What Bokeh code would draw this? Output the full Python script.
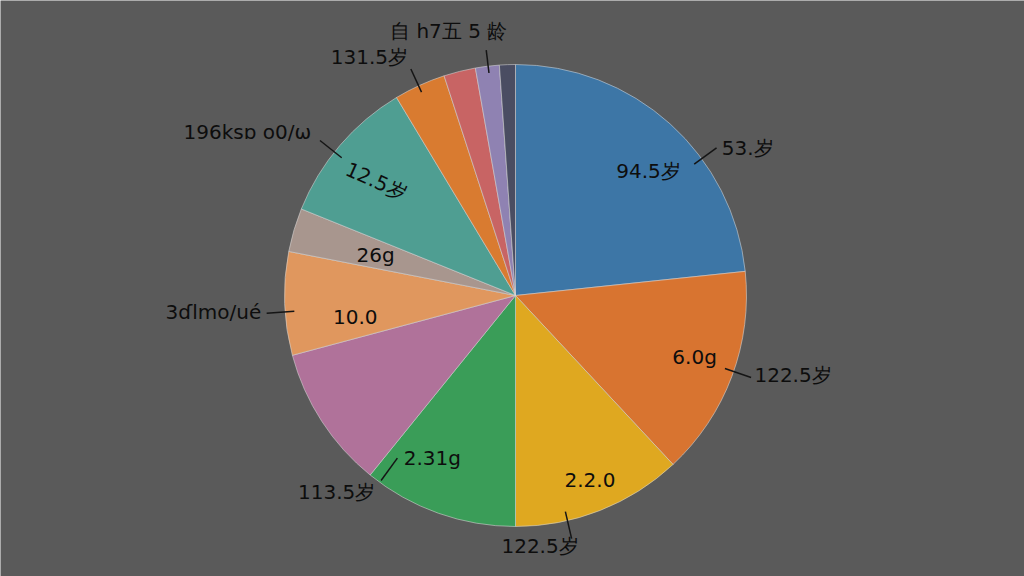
import math
from bokeh.plotting import figure
from bokeh.models import Range1d, ColumnDataSource
from bokeh.core.properties import value
from bokeh.embed import file_html
from bokeh.resources import INLINE

# ---- data ----
slice_values = [84, 53, 43, 39, 36, 26, 11, 37, 13, 8, 6, 4]
slice_colors = ["#3d76a6", "#d87430", "#dfa820", "#3a9d58", "#b0729a", "#e0975e",
                "#a8968e", "#4f9e92", "#d97b30", "#c86464", "#8f82b2", "#4a4d62"]

outer_labels = ["53.岁", "122.5岁", "122.5岁", "113.5岁", "3ɗlmo/ué", "196ksɒ o0/ω", "131.5岁", "自 h7五 5 龄"]
inner_labels = ["94.5岁", "6.0g", "2.2.0", "2.31g", "10.0", "26g", "12.5岁"]

# ---- layout (polar placement around the pie) ----
BG = "#5a5a5a"
W, H = 1024, 576
CX, CY, R = 515, 281, 231
outer_pos = [(32.4, 1.19), (344.0, 1.25), (275.6, 1.09), (227.7, 1.15),
             (183.2, 1.31), (148.6, 1.36), (121.5, 1.21), (104.2, 1.18)]
leader_ang = [36.3, 340.8, 283.0, 234.0, 184.1, 141.6, 114.8, 96.8]
leader_r = [(0.96, 1.08)] * 6 + [(0.97, 1.08), (0.97, 1.07)]
leader_r[3] = (0.87, 0.99)
inner_pos = [(43.2, 0.79), (341.0, 0.82), (292.0, 0.86), (242.9, 0.79),
             (187.7, 0.70), (164.0, 0.63), (140.6, 0.78)]
inner_rot = [0, 0, 0, 0, 0, 0, -24]

def polar(a_deg, rf):
    a = math.radians(a_deg)
    return CX + rf * R * math.cos(a), CY + rf * R * math.sin(a)

p = figure(width=W, height=H, x_range=Range1d(0, W), y_range=Range1d(0, H),
           output_backend="svg", toolbar_location=None, min_border=0,
           background_fill_color=BG, border_fill_color=BG, outline_line_color=None)
p.axis.visible = False
p.grid.visible = False

total = float(sum(slice_values))
starts, ends, cum = [], [], 0.0
for v in slice_values:
    starts.append(math.pi / 2 - cum / total * 2 * math.pi)
    cum += v
    ends.append(math.pi / 2 - cum / total * 2 * math.pi)

src = ColumnDataSource(dict(x=[CX] * len(slice_values), y=[CY] * len(slice_values),
                            s=starts, e=ends, c=slice_colors))
p.wedge(x="x", y="y", radius=R, start_angle="s", end_angle="e", direction="clock",
        fill_color="c", line_color="#d8d8d8", line_width=0.8, line_alpha=0.7, source=src)

# leader lines
xs0, ys0, xs1, ys1 = [], [], [], []
for a, (r0, r1) in zip(leader_ang, leader_r):
    x0, y0 = polar(a, r0)
    x1, y1 = polar(a, r1)
    xs0.append(x0); ys0.append(y0); xs1.append(x1); ys1.append(y1)
p.segment(x0=xs0, y0=ys0, x1=xs1, y1=ys1, line_color="#151515", line_width=1.5)

FONT = value("DejaVu Sans")
ox = [polar(a, r)[0] for a, r in outer_pos]
oy = [polar(a, r)[1] for a, r in outer_pos]
p.text(x=ox, y=oy, text=outer_labels, text_font=FONT, text_font_size="20px",
       text_color="#0d0d0d", text_align="center", text_baseline="middle")

ix = [polar(a, r)[0] for a, r in inner_pos]
iy = [polar(a, r)[1] for a, r in inner_pos]
p.text(x=ix, y=iy, text=inner_labels, angle=[math.radians(d) for d in inner_rot],
       text_font=FONT, text_font_size="20px", text_color="#0d0d0d",
       text_align="center", text_baseline="middle")

html = file_html(p, INLINE)
html = html.replace("<body>", '<body style="margin:0;overflow:hidden;background:%s">' % BG, 1)
open("out.html", "w").write(html)
